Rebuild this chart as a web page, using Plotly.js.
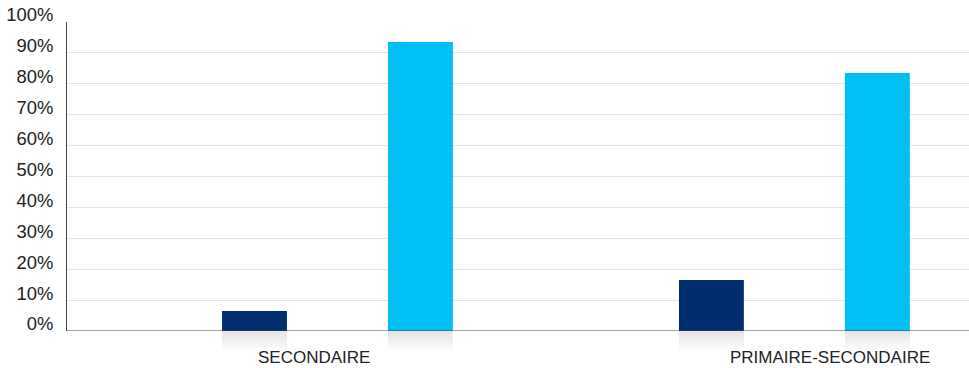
<!DOCTYPE html>
<html><head><meta charset="utf-8">
<script src="https://cdn.plot.ly/plotly-3.0.1.min.js"></script>
<style>html,body{margin:0;padding:0;background:#fff}#c{width:969px;height:368px}</style>
</head><body><div id="c"></div>
<script>
const categories = ['SECONDAIRE', 'PRIMAIRE-SECONDAIRE'];
const seriesDark = [6.5, 16.5];
const seriesCyan = [93.5, 83.5];
const yTickVals = [0,10,20,30,40,50,60,70,80,90,100];
const yTickText = ['0%','10%','20%','30%','40%','50%','60%','70%','80%','90%','100%'];

const xs = categories.map((c,i)=>i);
const barW = 0.142;
const offDark = -0.2527, offCyan = 0.1105;
const colDark = '#002d6e', colCyan = '#00bff3';
const font = {family:'Liberation Sans, Arial, sans-serif', size:17, color:'#222'};
const tickFont = {family:'Liberation Sans, Arial, sans-serif', size:18.4, color:'#222'};

const traces = [
  {type:'bar', x:xs, y:seriesDark, width:barW, offset:offDark, marker:{color:colDark}, hoverinfo:'none'},
  {type:'bar', x:xs, y:seriesCyan, width:barW, offset:offCyan, marker:{color:colCyan}, hoverinfo:'none'}
];

// reflection shading below the axis
const shapes = [];
const steps = 10;
[offDark, offCyan].forEach(off=>{
  xs.forEach(x=>{
    for(let s=0;s<steps;s++){
      shapes.push({type:'rect', xref:'x', yref:'paper', layer:'below',
        x0:x+off, x1:x+off+barW, y0:-s*0.0065, y1:-(s+1)*0.0065,
        fillcolor:'#d0d0d0', opacity:0.55*(1-s/steps), line:{width:0}});
    }
  });
});

const labelX = [-0.0514, 1.077];
const annotations = categories.map((c,i)=>({
  text:c, x:labelX[i], xref:'x', y:-0.085, yref:'paper', yanchor:'middle',
  showarrow:false, font:font
}));

const layout = {
  width:969, height:368,
  margin:{l:67, r:0, t:22, b:37},
  paper_bgcolor:'#fff', plot_bgcolor:'#fff',
  showlegend:false, barmode:'group',
  xaxis:{type:'linear', range:[-0.592, 1.382], showticklabels:false, showgrid:false,
    zeroline:false, showline:false, ticks:''},
  yaxis:{range:[0,100], tickvals:yTickVals, ticktext:yTickText, tickfont:tickFont,
    showgrid:true, gridcolor:'#e4e4e4', gridwidth:1, zeroline:false,
    showline:true, linecolor:'#444', linewidth:1, ticks:'', ticklabelstandoff:9, ticklabelshift:-7},
  shapes: shapes.concat([{type:'line', xref:'paper', yref:'y', x0:0, x1:1, y0:0, y1:0, line:{color:'#444', width:1}}]),
  annotations: annotations
};
Plotly.newPlot('c', traces, layout, {displayModeBar:false, staticPlot:true});
</script></body></html>
